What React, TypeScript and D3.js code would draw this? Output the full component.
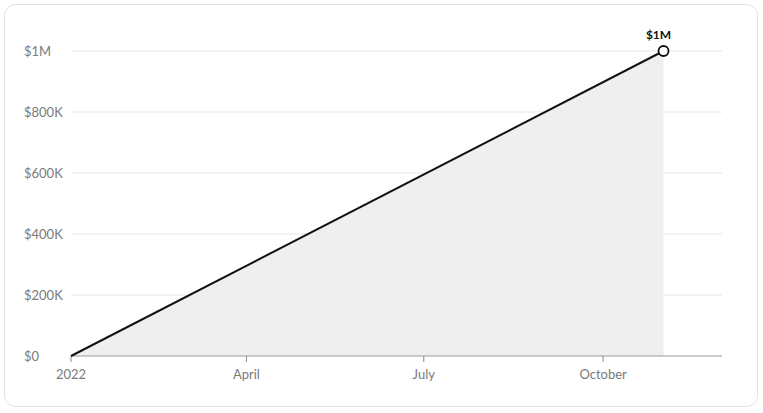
import { area, line, scaleLinear, scaleTime, timeFormat } from "d3";

const WIDTH = 763;
const HEIGHT = 413;
const MARGIN = { top: 51, right: 41, bottom: 57, left: 71 };

const dates = [new Date(2022, 0, 1), new Date(2022, 10, 1)];
const values = [0, 1000000];
const domainEnd = new Date(2022, 11, 1);
const yTicks = [0, 200000, 400000, 600000, 800000, 1000000];
const xTicks = [new Date(2022, 0, 1), new Date(2022, 3, 1), new Date(2022, 6, 1), new Date(2022, 9, 1)];

const FONT = "Lato, 'Noto Sans', sans-serif";

function money(v: number) {
  if (v >= 1000000) return `$${v / 1000000}M`;
  if (v >= 1000) return `$${v / 1000}K`;
  return `$${v}`;
}

export default function App() {
  const x = scaleTime()
    .domain([dates[0], domainEnd])
    .range([MARGIN.left, WIDTH - MARGIN.right]);
  const y = scaleLinear()
    .domain([0, 1000000])
    .range([HEIGHT - MARGIN.bottom, MARGIN.top]);

  const points = dates.map((d, i) => ({ date: d, value: values[i] }));
  const linePath = line<{ date: Date; value: number }>()
    .x((d) => x(d.date))
    .y((d) => y(d.value))(points);
  const areaPath = area<{ date: Date; value: number }>()
    .x((d) => x(d.date))
    .y0(y(0))
    .y1((d) => y(d.value))(points);

  const last = points[points.length - 1];
  const fmtMonth = timeFormat("%B");

  return (
    <svg
      width={WIDTH}
      height={HEIGHT}
      style={{ position: "absolute", left: 0, top: 0, fontFamily: FONT }}
    >
      <rect x={4.5} y={4.5} width={753} height={402} rx={11} fill="#fff" stroke="#e2e2e2" />
      {yTicks.map((t) => (
        <g key={t}>
          {t > 0 && (
            <line x1={MARGIN.left} x2={WIDTH - MARGIN.right} y1={y(t)} y2={y(t)} stroke="#e6e6e6" strokeWidth={1} />
          )}
          <text x={24} y={y(t)} dy="0.35em" fontSize={13} fill="#7a7a7a">
            {money(t)}
          </text>
        </g>
      ))}
      <path d={areaPath ?? ""} fill="#efefef" />
      <line
        x1={MARGIN.left}
        x2={WIDTH - MARGIN.right}
        y1={y(0)}
        y2={y(0)}
        stroke="#9a9a9a"
        strokeWidth={1}
      />
      {xTicks.map((t, i) => (
        <g key={i}>
          <line x1={x(t)} x2={x(t)} y1={y(0)} y2={y(0) + 6} stroke="#888" strokeWidth={1} />
          <text x={x(t)} y={y(0) + 23} textAnchor="middle" fontSize={13} fill="#7a7a7a">
            {i === 0 ? "2022" : fmtMonth(t)}
          </text>
        </g>
      ))}
      <path d={linePath ?? ""} fill="none" stroke="#111" strokeWidth={2} />
      <circle cx={x(last.date)} cy={y(last.value)} r={5} fill="#fff" stroke="#111" strokeWidth={1.8} />
      <text
        x={x(last.date) - 5}
        y={y(last.value) - 12}
        textAnchor="middle"
        fontSize={12}
        fontWeight={700}
        fill="#111"
      >
        {money(last.value)}
      </text>
    </svg>
  );
}
